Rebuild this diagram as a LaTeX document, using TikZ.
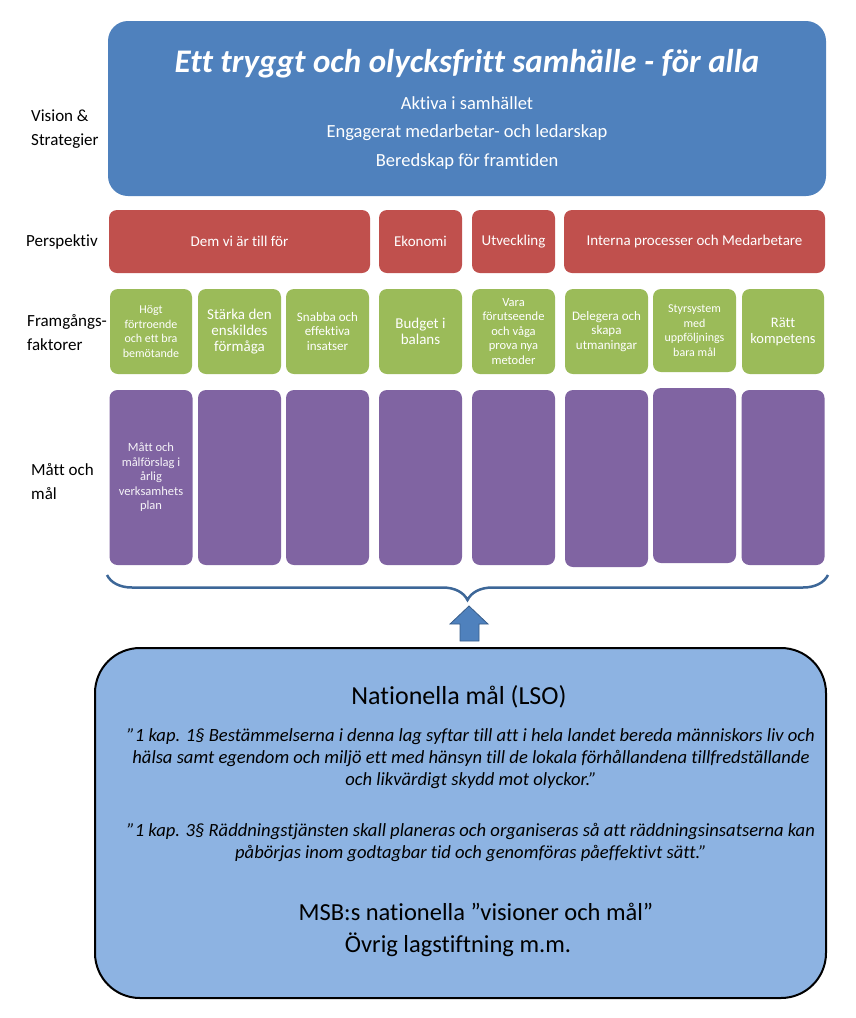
\documentclass[tikz,border=0pt]{standalone}
\usepackage{fontspec}
\setmainfont{Carlito}[Ligatures=NoCommon]
\usetikzlibrary{decorations.pathreplacing}
\definecolor{visionblue}{HTML}{4F81BD}
\definecolor{perspred}{HTML}{C0504D}
\definecolor{faktorgreen}{HTML}{9BBB59}
\definecolor{mattpurple}{HTML}{8064A2}
\definecolor{natblue}{HTML}{8DB3E2}
\definecolor{bracecol}{HTML}{3D6798}
\definecolor{arrowedge}{HTML}{385D8A}
\tikzset{
    box/.style={rounded corners=8pt, inner sep=0pt, align=center, text=white},
    perspbox/.style={box, fill=perspred, minimum height=63pt, font=\fontsize{15}{17}\selectfont},
    faktorbox/.style={box, fill=faktorgreen, minimum height=85pt, minimum width=83pt, font=\fontsize{12.5}{14.5}\selectfont},
    mattbox/.style={box, fill=mattpurple, minimum width=83pt},
    rowlabel/.style={anchor=west, align=left, inner sep=0pt, font=\fontsize{17}{24}\selectfont},
    nattext/.style={inner sep=0pt, align=center, font=\fontsize{18.6}{22}\selectfont\itshape},
}
\begin{document}
\begin{tikzpicture}[x=1pt, y=-1pt]
        \useasboundingbox (0,0) rectangle (856,1018);
        %row labels
        \node[rowlabel] (lvision) at (31,129) {Vision \&\\Strategier};
        \node[rowlabel] (lpersp) at (26,242) {Perspektiv};
        \node[rowlabel] (lfaktor) at (27,332.5) {Framgångs-\\faktorer};
        \node[rowlabel] (lmatt) at (31,482) {Mått och\\mål};
        %vision box
        \node[box, fill=visionblue, rounded corners=20pt, minimum width=718pt, minimum height=175pt] (vision) at (467,108.5) {};
        \node[text=white, font=\fontsize{33}{38}\selectfont\bfseries\itshape] (titel) at (467,64) {Ett tryggt och olycksfritt samhälle - för alla};
        \node[text=white, align=center, font=\fontsize{18.5}{28.5}\selectfont] (strategier) at (467,133) {Aktiva i samhället\\Engagerat medarbetar- och ledarskap\\Beredskap för framtiden};
        %perspektiv
        \node[perspbox, minimum width=261pt] (dem) at (239.5,241.5) {Dem vi är till för};
        \node[perspbox, minimum width=83pt] (ekonomi) at (420.5,241.5) {Ekonomi};
        \node[perspbox, minimum width=83pt] (utv) at (513.5,241.5) {Utveckling};
        \node[perspbox, minimum width=261pt] (interna) at (694.5,241.5) {Interna processer och Medarbetare};
        %framgangsfaktorer
        \node[faktorbox, minimum width=82pt, font=\fontsize{12}{14.5}\selectfont] (f1) at (151,331.5) {Högt\\förtroende\\och ett bra\\bemötande};
        \node[faktorbox, font=\fontsize{15}{16}\selectfont] (f2) at (239.5,331.5) {Stärka den\\enskildes\\förmåga};
        \node[faktorbox, font=\fontsize{13}{14.5}\selectfont] (f3) at (327.5,331.5) {Snabba och\\effektiva\\insatser};
        \node[faktorbox, font=\fontsize{15}{16.5}\selectfont] (f4) at (420.5,331.5) {Budget i\\balans};
        \node[faktorbox] (f5) at (513.5,331.5) {Vara\\förutseende\\och våga\\prova nya\\metoder};
        \node[faktorbox, font=\fontsize{13}{14.5}\selectfont] (f6) at (606.5,331.5) {Delegera och\\skapa\\utmaningar};
        \node[faktorbox, minimum height=83pt, font=\fontsize{12}{14.5}\selectfont] (f7) at (694.5,330.5) {Styrsystem\\med\\uppföljnings\\bara mål};
        \node[faktorbox, minimum width=82pt, font=\fontsize{14.5}{16}\selectfont] (f8) at (783,331.5) {Rätt\\kompetens};
        %matt och mal
        \foreach \x/\y/\h [count=\i] in {151/477.5/175, 239.5/477.5/175, 327.5/477.5/175, 420.5/477.5/175, 513.5/477.5/175, 606.5/478.5/177, 694.5/475.5/175, 783/477.5/175}
            \node[mattbox, minimum height=\h pt] (m\i) at (\x,\y) {};
        \node[text=white!93!mattpurple, align=center, inner sep=0pt, font=\fontsize{12.5}{14.5}\selectfont] (mtext) at (m1) {Mått och\\målförslag i\\årlig\\verksamhets\\plan};
        %brace
        \coordinate (bl) at (107,575);
        \coordinate (br) at (828,575);
        \draw[bracecol, line width=2.5pt, decorate, decoration={brace, mirror, amplitude=25pt, aspect=0.5}] (bl) -- (br);
        %national goals
        \node[draw=black, line width=2pt, fill=natblue, rounded corners=45pt, minimum width=731pt, minimum height=350pt] (nat) at (460.5,823) {};
        \node[font=\fontsize{26}{30}\selectfont] (natrubrik) at (459,697) {Nationella mål (LSO)};
        \node[nattext] (kap1) at (471,759) {”1 kap. 1§ Bestämmelserna i denna lag syftar till att i hela landet bereda människors liv och\\hälsa samt egendom och miljö ett med hänsyn till de lokala förhållandena tillfredställande\\och likvärdigt skydd mot olyckor.”};
        \node[nattext] (kap3) at (471,842.5) {”1 kap. 3§ Räddningstjänsten skall planeras och organiseras så att räddningsinsatserna kan\\påbörjas inom godtagbar tid och genomföras påeffektivt sätt.”};
        \node[font=\fontsize{24.5}{28}\selectfont] (msb) at (476,912) {MSB:s nationella ”visioner och mål”};
        \node[font=\fontsize{24.5}{28}\selectfont] (ovrig) at (458,945) {Övrig lagstiftning m.m.};
        %up arrow
        \draw[fill=visionblue, draw=arrowedge, line width=0.8pt] (460,641) -- (460,624) -- (450,624) -- (469,606) -- (488,624) -- (479,624) -- (479,641) -- cycle;
    \end{tikzpicture}
\end{document}
